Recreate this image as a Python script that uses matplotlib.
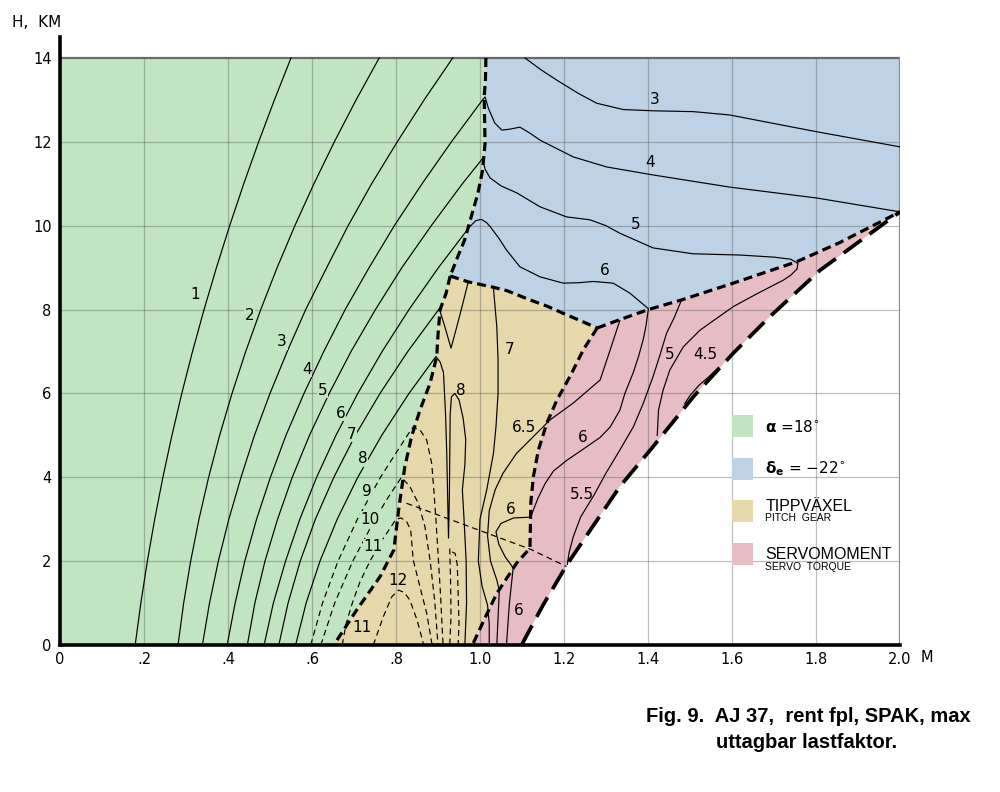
import numpy as np
import matplotlib.pyplot as plt
from matplotlib.patches import Polygon, Rectangle

plt.rcParams['lines.scale_dashes'] = False
plt.rcParams['font.family'] = ['DejaVu Sans']

# färger för områdena
GRON = '#c1e5c0'
BLA = '#bdd2e5'
GUL = '#e6d8aa'
ROSA = '#e6bdc5'

# axlar
m_ticks = [0, 0.2, 0.4, 0.6, 0.8, 1.0, 1.2, 1.4, 1.6, 1.8, 2.0]
m_etiketter = ['0', '.2', '.4', '.6', '.8', '1.0', '1.2', '1.4', '1.6', '1.8', '2.0']
h_ticks = [0, 2, 4, 6, 8, 10, 12, 14]

# gränser mellan områdena (M, H)
grans_gron_bla = [(1.014, 14.0), (1.013, 13.5), (1.01, 13.07), (1.011, 12.5), (1.012, 11.96),
                  (1.006, 11.32), (0.995, 10.77), (0.979, 10.21), (0.963, 9.65), (0.947, 9.26),
                  (0.929, 8.8)]
grans_gron_gul = [(0.929, 8.8), (0.919, 8.38), (0.905, 8.0), (0.9, 7.4), (0.897, 6.88),
                  (0.881, 6.24), (0.857, 5.6), (0.837, 4.97), (0.821, 4.25), (0.813, 3.7),
                  (0.806, 3.2), (0.8, 2.7), (0.795, 2.27), (0.762, 1.63), (0.706, 0.83),
                  (0.652, 0.0)]
grans_gul_bla = [(0.929, 8.8), (0.972, 8.66), (1.024, 8.55), (1.064, 8.45), (1.119, 8.23),
                 (1.16, 8.08), (1.198, 7.91), (1.24, 7.73), (1.279, 7.56)]
grans_gul_rosa = [(1.279, 7.56), (1.246, 7.04), (1.214, 6.4), (1.183, 5.84), (1.159, 5.29),
                  (1.139, 4.65), (1.127, 4.01), (1.121, 3.4), (1.119, 2.31), (1.087, 1.95),
                  (1.04, 1.23), (1.012, 0.65), (0.982, 0.0)]
grans_bla_rosa = [(1.279, 7.56), (1.333, 7.76), (1.401, 8.0), (1.48, 8.23), (1.603, 8.63),
                  (1.754, 9.14), (1.857, 9.6), (2.0, 10.33)]
grans_servo = [(1.099, 0.0), (1.15, 0.95), (1.206, 1.9), (1.27, 2.85), (1.333, 3.78),
               (1.412, 4.73), (1.508, 5.92), (1.603, 6.96), (1.69, 7.83), (1.81, 8.94),
               (1.9, 9.6), (2.0, 10.33)]
streck_rak = [(0.825, 3.38), (1.121, 2.28), (1.206, 1.87)]

# lastfaktor-kurvor, heldragna
iso_1 = [(0.179, 0), (0.1925, 1), (0.208, 2), (0.2255, 3), (0.245, 4), (0.2665, 5), (0.29, 6),
         (0.3155, 7), (0.343, 8), (0.3725, 9), (0.404, 10), (0.4375, 11), (0.473, 12),
         (0.5105, 13), (0.55, 14)]
iso_2 = [(0.281, 0), (0.2944, 1), (0.3111, 2), (0.3309, 3), (0.3539, 4), (0.3801, 5),
         (0.4096, 6), (0.4422, 7), (0.478, 8), (0.517, 9), (0.5592, 10), (0.6046, 11),
         (0.6532, 12), (0.705, 13), (0.76, 14)]
iso_3 = [(0.339, 0), (0.356, 1), (0.377, 2), (0.402, 3), (0.431, 4), (0.463, 5), (0.5, 6),
         (0.541, 7), (0.585, 8), (0.635, 9), (0.686, 10), (0.742, 11), (0.803, 12),
         (0.867, 13), (0.935, 14)]
iso_3b = [(1.107, 14), (1.145, 13.72), (1.183, 13.47), (1.235, 13.15), (1.278, 12.92),
          (1.341, 12.77), (1.412, 12.74), (1.508, 12.72), (1.595, 12.64), (1.698, 12.44),
          (1.802, 12.24), (2.0, 11.88)]
iso_4 = [(0.398, 0), (0.417, 1), (0.44, 2), (0.468, 3), (0.501, 4), (0.538, 5), (0.581, 6),
         (0.628, 7), (0.679, 8), (0.736, 9), (0.796, 10), (0.862, 11), (0.932, 12),
         (1.006, 13), (1.012, 13.07), (1.02, 12.8), (1.035, 12.45), (1.052, 12.28),
         (1.07, 12.3), (1.095, 12.35), (1.12, 12.2), (1.143, 12.04), (1.222, 11.64),
         (1.302, 11.4), (1.412, 11.21), (1.595, 10.92), (1.802, 10.66), (2.0, 10.33)]
iso_5 = [(0.446, 0), (0.464, 1), (0.488, 2), (0.518, 3), (0.553, 4), (0.594, 5), (0.641, 6),
         (0.693, 7), (0.751, 8), (0.814, 9), (0.884, 10), (0.958, 11), (1.006, 11.6),
         (1.012, 11.35), (1.024, 11.14), (1.05, 10.95), (1.088, 10.78), (1.143, 10.45),
         (1.206, 10.21), (1.262, 10.14), (1.3, 10.0), (1.333, 9.82), (1.412, 9.47),
         (1.507, 9.33), (1.619, 9.3), (1.7, 9.25), (1.74, 9.2), (1.757, 9.1), (1.755, 8.97),
         (1.74, 8.82), (1.722, 8.7), (1.66, 8.38), (1.603, 8.07), (1.524, 7.51),
         (1.484, 7.11), (1.452, 6.56), (1.436, 6.08), (1.425, 5.6), (1.422, 5.0)]
iso_6 = [(0.486, 0), (0.508, 1), (0.537, 2), (0.571, 3), (0.611, 4), (0.657, 5), (0.709, 6),
         (0.767, 7), (0.831, 8), (0.901, 9), (0.975, 9.97), (0.99, 10.12), (1.003, 10.15),
         (1.015, 10.08), (1.024, 9.98), (1.045, 9.7), (1.063, 9.42), (1.095, 9.02),
         (1.143, 8.78), (1.198, 8.63), (1.235, 8.64), (1.27, 8.67), (1.317, 8.63),
         (1.357, 8.39), (1.401, 8.02), (1.395, 7.6), (1.389, 7.3), (1.378, 6.9),
         (1.365, 6.5), (1.345, 6.0), (1.333, 5.6), (1.31, 5.2), (1.286, 4.95), (1.25, 4.7),
         (1.206, 4.4), (1.175, 4.15), (1.155, 3.85), (1.138, 3.5), (1.127, 3.22),
         (1.121, 3.05), (1.08, 3.03), (1.05, 2.9), (1.038, 2.7), (1.045, 2.4), (1.06, 2.1),
         (1.079, 1.84), (1.07, 1.0), (1.063, 0)]
iso_7 = [(0.521, 0), (0.543, 1), (0.572, 2), (0.608, 3), (0.652, 4), (0.703, 5), (0.762, 6),
         (0.828, 7), (0.903, 8.02), (0.916, 7.6), (0.931, 7.08), (0.945, 7.6), (0.958, 8.1),
         (0.972, 8.66)]
iso_7b = [(1.032, 8.51), (1.04, 7.59), (1.043, 6.8), (1.043, 6.0), (1.038, 5.2),
          (1.032, 4.57), (1.016, 3.7), (1.0, 3.0), (0.996, 2.0), (1.005, 1.4),
          (1.018, 0.95), (1.022, 0.5), (1.022, 0)]
iso_8 = [(0.561, 0), (0.586, 1), (0.619, 2), (0.66, 3), (0.709, 4), (0.766, 5), (0.831, 6),
         (0.895, 6.88), (0.905, 6.75), (0.913, 6.5), (0.918, 5.5), (0.921, 4.5),
         (0.923, 3.5), (0.925, 2.55), (0.927, 3.5), (0.928, 4.5), (0.929, 5.5),
         (0.932, 5.92), (0.94, 6.0), (0.95, 5.85), (0.96, 5.4), (0.966, 4.9), (0.964, 4.3),
         (0.958, 3.7), (0.962, 3.0), (0.967, 2.0), (0.968, 1.0), (0.964, 0)]
iso_65 = [(1.333, 7.74), (1.31, 7.04), (1.286, 6.32), (1.222, 5.77), (1.167, 5.37),
          (1.14, 5.1), (1.087, 4.57), (1.055, 4.1), (1.036, 3.7), (1.022, 3.2),
          (1.018, 2.6), (1.025, 2.0), (1.04, 1.55), (1.046, 1.3), (1.04, 0)]
iso_55 = [(1.48, 8.23), (1.462, 7.8), (1.444, 7.43), (1.428, 6.9), (1.412, 6.4),
          (1.389, 5.77), (1.365, 5.2), (1.33, 4.6), (1.3, 4.1), (1.27, 3.55), (1.24, 3.06),
          (1.222, 2.58), (1.212, 2.2), (1.208, 1.92)]
iso_45 = [(1.568, 6.62), (1.545, 6.4), (1.522, 6.2), (1.5, 5.95), (1.487, 5.75)]

# streckade kurvor
iso_9 = [(0.597, 0), (0.625, 1), (0.662, 2), (0.708, 3), (0.763, 4), (0.827, 5),
         (0.84, 5.19), (0.857, 5.13), (0.873, 4.89), (0.885, 4.33), (0.89, 3.7),
         (0.895, 3.0), (0.9, 2.2), (0.906, 1.2), (0.912, 0)]
iso_10 = [(0.621, 0), (0.654, 1), (0.697, 2), (0.75, 3.0), (0.78, 3.5), (0.813, 4.0),
          (0.833, 3.78), (0.853, 3.38), (0.869, 2.82), (0.881, 2.03), (0.892, 1.07),
          (0.9, 0)]
iso_11 = [(0.672, 0), (0.681, 0.5), (0.696, 1), (0.714, 1.5), (0.738, 2), (0.767, 2.5),
          (0.8, 3.0), (0.812, 3.03), (0.825, 2.95), (0.835, 2.74), (0.841, 2.03),
          (0.857, 1.39), (0.873, 0.76), (0.886, 0)]
iso_12 = [(0.746, 0), (0.77, 0.68), (0.79, 1.15), (0.806, 1.31), (0.82, 1.25),
          (0.833, 1.07), (0.85, 0.6), (0.866, 0)]
streck_a = [(0.928, 2.3), (0.93, 1.5), (0.931, 0.7), (0.928, 0)]
streck_b = [(0.934, 2.22), (0.941, 2.18), (0.946, 1.9), (0.948, 1.2), (0.95, 0.5), (0.948, 0)]

heldragna = [iso_1, iso_2, iso_3, iso_3b, iso_4, iso_5, iso_6, iso_7, iso_7b, iso_8,
             iso_65, iso_55, iso_45]
streckade = [iso_9, iso_10, iso_11, iso_12, streck_a, streck_b, streck_rak]

# kurvetiketter (text, M, H)
etiketter_gron = [('1', 0.321, 8.35), ('2', 0.452, 7.87), ('3', 0.529, 7.23),
                  ('4', 0.588, 6.58), ('5', 0.626, 6.08), ('6', 0.669, 5.53),
                  ('7', 0.695, 5.03), ('8', 0.721, 4.44), ('9', 0.731, 3.65),
                  ('10', 0.738, 3.0), ('11', 0.745, 2.34)]
etiketter_ovriga = [('12', 0.805, 1.55), ('11', 0.719, 0.41), ('7', 1.071, 7.04),
                    ('8', 0.955, 6.08), ('6.5', 1.105, 5.18), ('6', 1.074, 3.24),
                    ('6', 1.245, 4.96), ('5.5', 1.243, 3.58), ('5', 1.452, 6.92),
                    ('4.5', 1.536, 6.92), ('6', 1.093, 0.83), ('3', 1.417, 13.0),
                    ('4', 1.405, 11.5), ('5', 1.371, 10.02), ('6', 1.298, 8.92)]


def xy(punkter):
    p = np.array(punkter, dtype=float)
    return p[:, 0], p[:, 1]


fig = plt.figure(figsize=(10, 7.92), dpi=100)
ax = fig.add_axes([0.06, 1 - 645 / 792, 0.84, (645 - 37) / 792])
ax.set_xlim(0, 2.0)
ax.set_ylim(0, 14.5)

# områden
omr_gron = [(0, 0), (0, 14)] + grans_gron_bla + grans_gron_gul[1:]
omr_bla = [(2.0, 14)] + grans_bla_rosa[::-1] + grans_gul_bla[::-1][1:] + grans_gron_bla[::-1][1:]
omr_gul = grans_gron_gul + grans_gul_rosa[::-1] + grans_gul_bla[::-1][1:]
omr_rosa = grans_gul_rosa + grans_servo + grans_bla_rosa[::-1][1:]
for omr, farg in [(omr_gron, GRON), (omr_bla, BLA), (omr_gul, GUL), (omr_rosa, ROSA)]:
    ax.add_patch(Polygon(omr, closed=True, fc=farg, ec='none', lw=0, zorder=1))

# rutnät
ax.vlines(m_ticks[1:-1], 0, 14, colors='#555555', alpha=0.38, lw=0.9, zorder=1.5)
ax.hlines(h_ticks[1:-1], 0, 2.0, colors='#555555', alpha=0.38, lw=0.9, zorder=1.5)
ax.plot([0, 2.0], [14, 14], color='#6a6a6a', lw=1.6, zorder=1.6)
ax.plot([2.0, 2.0], [0, 14], color='#8a8a8a', lw=1.6, zorder=1.6)

for kurva in heldragna:
    x, y = xy(kurva)
    ax.plot(x, y, color='black', lw=0.85, zorder=2)
for kurva in streckade:
    x, y = xy(kurva)
    ax.plot(x, y, color='black', lw=0.85, ls=(0, (4.3, 2.9)), zorder=2)

for grans in [grans_gron_bla, grans_gron_gul, grans_gul_bla, grans_gul_rosa, grans_bla_rosa]:
    x, y = xy(grans)
    ax.plot(x, y, color='black', lw=2.3, ls=(0, (6.5, 3.6)), zorder=3)
x, y = xy(grans_servo)
ax.plot(x, y, color='black', lw=2.7, ls=(0, (16, 7)), zorder=3)

for txt, m, h in etiketter_gron:
    ax.text(m, h, txt, fontsize=11, ha='center', va='center', zorder=4,
            bbox=dict(fc=GRON, ec='none', pad=0.4))
for txt, m, h in etiketter_ovriga:
    ax.text(m, h, txt, fontsize=11, ha='center', va='center', zorder=4)

# teckenförklaring
rutor = [(5.49, GRON), (4.46, BLA), (3.46, GUL), (2.43, ROSA)]
for topp, farg in rutor:
    ax.add_patch(Rectangle((1.60, topp - 0.52), 0.05, 0.52, fc=farg, ec='none', zorder=4))
ax.text(1.679, 5.2, r'$\mathbf{\alpha}$ =18$^{\circ}$', fontsize=11, va='center', zorder=4)
ax.text(1.679, 4.2, r'$\mathbf{\delta_{e}}$ = $-$22$^{\circ}$', fontsize=11, va='center', zorder=4)
leg = dict(family='Liberation Sans', va='center', zorder=4)
ax.text(1.679, 3.31, 'TIPPVÄXEL', fontsize=11.5, **leg)
ax.text(1.679, 3.02, 'PITCH  GEAR', fontsize=7.5, **leg)
ax.text(1.679, 2.15, 'SERVOMOMENT', fontsize=11.5, **leg)
ax.text(1.679, 1.86, 'SERVO  TORQUE', fontsize=7.5, **leg)

# axlar
for s in ['top', 'right']:
    ax.spines[s].set_visible(False)
ax.spines['left'].set_linewidth(2.6)
ax.spines['bottom'].set_linewidth(2.6)
ax.spines['left'].set_zorder(5)
ax.spines['bottom'].set_zorder(5)
ax.set_xticks(m_ticks)
ax.set_xticklabels(m_etiketter)
ax.set_yticks(h_ticks)
ax.set_yticklabels([str(h) for h in h_ticks])
ax.tick_params(length=0, labelsize=10.5)
ax.tick_params(axis='y', pad=6)
ax.tick_params(axis='x', pad=5)

fig.text(0.012, 0.972, 'H,  KM', fontsize=11, va='center')
fig.text(0.921, 1 - 658 / 792, 'M', fontsize=10.5, va='center')

# figurtext
cap = dict(fontsize=14.5, family='Liberation Sans', fontweight='bold', va='center')
fig.text(0.646, 1 - 716 / 792, 'Fig. 9.  AJ 37,  rent fpl, SPAK, max', **cap)
fig.text(0.716, 1 - 742 / 792, 'uttagbar lastfaktor.', **cap)

fig.savefig('out.png', dpi=100)
